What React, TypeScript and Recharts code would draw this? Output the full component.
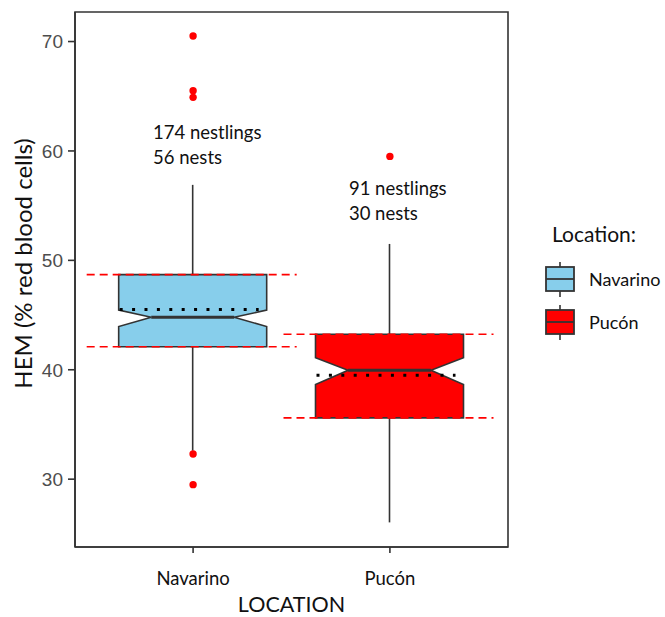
import React from 'react';
import {
  ComposedChart,
  Bar,
  Scatter,
  XAxis,
  YAxis,
  Legend,
  ReferenceDot,
  ReferenceArea,
} from 'recharts';

const LOCATIONS = ['Navarino', 'Pucón'];
const POSITIONS = [1, 2];
const X_DOMAIN = [0.4, 2.6];
const WHISKER_LOW = [32.6, 26.05];
const WHISKER_HIGH = [56.9, 51.5];
const Q1 = [42.1, 35.6];
const MEDIAN = [44.8, 39.95];
const Q3 = [48.7, 43.25];
const MEAN = [45.5, 39.5];
const NOTCH_LOW = [43.95, 38.65];
const NOTCH_HIGH = [45.45, 41.1];
const OUTLIERS_NAVARINO = [70.5, 65.5, 64.9, 32.3, 29.5];
const OUTLIERS_PUCON = [59.5];
const NOTE_NAVARINO = ['174 nestlings', '56 nests'];
const NOTE_PUCON = ['91 nestlings', '30 nests'];
const NOTE_Y = [61.05, 55.95];
const Y_TICKS = [30, 40, 50, 60, 70];
const Y_DOMAIN = [23.8, 72.7];
const FILLS = ['#87CEEB', '#FF0000'];

const OUTLIERS = [OUTLIERS_NAVARINO, OUTLIERS_PUCON];
const OUTLIER_KEYS = ['o1', 'o2', 'o3', 'o4', 'o5'];

const boxData = LOCATIONS.map((name, i) => {
  const row: any = {
    name,
    pos: POSITIONS[i],
    range: [WHISKER_LOW[i], WHISKER_HIGH[i]],
    q1: Q1[i],
    median: MEDIAN[i],
    q3: Q3[i],
    mean: MEAN[i],
    notchLo: NOTCH_LOW[i],
    notchHi: NOTCH_HIGH[i],
    fill: FILLS[i],
  };
  OUTLIER_KEYS.forEach((k, j) => {
    row[k] = OUTLIERS[i][j] ?? null;
  });
  return row;
});

const TEXT_FONT = 'Lato, "Open Sans", sans-serif';
const EDGE = '#333333';

function NotchedBox(props: any) {
  const { x, y, width, height, payload } = props;
  const lo = payload.range[0];
  const hi = payload.range[1];
  const top = Math.min(y, y + height);
  const h = Math.abs(height);
  const k = h / (hi - lo);
  const py = (v: number) => top + (hi - v) * k;
  const left = x;
  const right = x + width;
  const cx = x + width / 2;
  const inset = width * 0.22;
  const yQ1 = py(payload.q1);
  const yQ3 = py(payload.q3);
  const yMed = py(payload.median);
  const yNh = py(payload.notchHi);
  const yNl = py(payload.notchLo);
  const yMean = py(payload.mean);
  const path = [
    `M${left},${yQ3}`,
    `L${right},${yQ3}`,
    `L${right},${yNh}`,
    `L${right - inset},${yMed}`,
    `L${right},${yNl}`,
    `L${right},${yQ1}`,
    `L${left},${yQ1}`,
    `L${left},${yNl}`,
    `L${left + inset},${yMed}`,
    `L${left},${yNh}`,
    'Z',
  ].join(' ');
  return (
    <g>
      <line x1={cx} x2={cx} y1={top} y2={yQ3} stroke={EDGE} strokeWidth={1.6} />
      <line x1={cx} x2={cx} y1={yQ1} y2={top + h} stroke={EDGE} strokeWidth={1.6} />
      <path d={path} fill={payload.fill} stroke={EDGE} strokeWidth={1.6} strokeLinejoin="miter" />
      <line x1={left + inset} x2={right - inset} y1={yMed} y2={yMed} stroke={EDGE} strokeWidth={3} />
      <line
        x1={left + 1}
        x2={right - 8}
        y1={yMean}
        y2={yMean}
        stroke="#000"
        strokeWidth={3}
        strokeDasharray="3 9.4"
      />
      <line x1={left - 32} x2={right + 30} y1={yQ3} y2={yQ3} stroke="#FF0000" strokeWidth={1.6} strokeDasharray="8 5" />
      <line x1={left - 32} x2={right + 30} y1={yQ1} y2={yQ1} stroke="#FF0000" strokeWidth={1.6} strokeDasharray="8 5" />
    </g>
  );
}

function outlierDot(key: string) {
  return (props: any) => {
    const { cx, cy, payload } = props;
    if (!payload || payload[key] == null || !Number.isFinite(cx) || !Number.isFinite(cy)) return <g />;
    return <circle cx={cx} cy={cy} r={3.7} fill="#FF0000" />;
  };
}

function noteLabel(lines: string[], dx: number) {
  return (props: any) => {
    const vb = props.viewBox || {};
    const bx = (vb.x ?? 0) + (vb.width ?? 0) / 2 + dx;
    const by = (vb.y ?? 0) + (vb.height ?? 0) / 2;
    return (
      <text x={bx} y={by} fontFamily={TEXT_FONT} fontSize={18.5} fill="#111">
        {lines.map((t, i) => (
          <tspan key={i} x={bx} dy={i === 0 ? 0 : 24.5}>
            {t}
          </tspan>
        ))}
      </text>
    );
  };
}

function LegendBox({ fill, y }: { fill: string; y: number }) {
  return (
    <g>
      <line x1={20} x2={20} y1={y - 5} y2={y + 30} stroke={EDGE} strokeWidth={1.6} />
      <rect x={6} y={y} width={28} height={24} fill={fill} stroke={EDGE} strokeWidth={1.8} />
      <line x1={6} x2={34} y1={y + 12} y2={y + 12} stroke={EDGE} strokeWidth={1.8} />
    </g>
  );
}

function LegendContent() {
  return (
    <svg width={125} height={130} style={{ overflow: 'visible' }}>
      <text x={12} y={27} fontFamily={TEXT_FONT} fontSize={21} fill="#111">
        Location:
      </text>
      <LegendBox fill={FILLS[0]} y={52} />
      <text x={49} y={71} fontFamily={TEXT_FONT} fontSize={18} fill="#111">
        {LOCATIONS[0]}
      </text>
      <LegendBox fill={FILLS[1]} y={95} />
      <text x={49} y={114} fontFamily={TEXT_FONT} fontSize={18} fill="#111">
        {LOCATIONS[1]}
      </text>
    </svg>
  );
}

export default function App() {
  return (
    <div style={{ position: 'absolute', left: 0, top: 0, background: '#fff' }}>
      <ComposedChart
        width={665}
        height={617}
        data={boxData}
        margin={{ top: 12, right: 157, left: 0, bottom: 0 }}
      >
        <XAxis
          dataKey="pos"
          type="number"
          domain={X_DOMAIN}
          ticks={POSITIONS}
          allowDataOverflow
          tickFormatter={(v: number) => LOCATIONS[POSITIONS.indexOf(v)] ?? ''}
          height={70}
          axisLine={{ stroke: EDGE, strokeWidth: 1.6 }}
          tickLine={{ stroke: EDGE, strokeWidth: 1.6 }}
          tickSize={6}
          tickMargin={19}
          tick={{ fill: '#111', fontFamily: TEXT_FONT, fontSize: 18.5 }}
          label={{
            content: (p: any) => {
              const vb = p.viewBox || {};
              return (
                <text
                  x={(vb.x ?? 0) + (vb.width ?? 0) / 2}
                  y={612}
                  textAnchor="middle"
                  fontFamily={TEXT_FONT}
                  fontSize={21.5}
                  fill="#111"
                >
                  LOCATION
                </text>
              );
            },
          }}
        />
        <YAxis
          type="number"
          width={75}
          domain={Y_DOMAIN}
          ticks={Y_TICKS}
          allowDataOverflow
          axisLine={{ stroke: EDGE, strokeWidth: 1.6 }}
          tickLine={{ stroke: EDGE, strokeWidth: 1.6 }}
          tickSize={7}
          tickMargin={5}
          tick={{ fill: '#4D4D4D', fontFamily: '"Liberation Sans", Arial, sans-serif', fontSize: 19 }}
          label={{
            content: (p: any) => {
              const vb = p.viewBox || {};
              const cy = (vb.y ?? 0) + (vb.height ?? 0) / 2 - 16;
              return (
                <text
                  transform={`translate(32, ${cy}) rotate(-90)`}
                  textAnchor="middle"
                  fontFamily={TEXT_FONT}
                  fontSize={24}
                  fill="#111"
                >
                  HEM (% red blood cells)
                </text>
              );
            },
          }}
        />
        <ReferenceArea
          y1={Y_DOMAIN[0]}
          y2={Y_DOMAIN[1]}
          fill="none"
          fillOpacity={0}
          stroke={EDGE}
          strokeWidth={1.6}
          ifOverflow="visible"
        />
        <Bar dataKey="range" barSize={148} shape={NotchedBox} isAnimationActive={false} />
        {OUTLIER_KEYS.map((k) => (
          <Scatter key={k} dataKey={k} isAnimationActive={false} shape={outlierDot(k)} />
        ))}
        <ReferenceDot
          x={POSITIONS[0]}
          y={NOTE_Y[0]}
          r={0}
          fill="none"
          stroke="none"
          label={{ content: noteLabel(NOTE_NAVARINO, -40) }}
        />
        <ReferenceDot
          x={POSITIONS[1]}
          y={NOTE_Y[1]}
          r={0}
          fill="none"
          stroke="none"
          label={{ content: noteLabel(NOTE_PUCON, -41) }}
        />
        <Legend
          layout="vertical"
          align="center"
          verticalAlign="middle"
          wrapperStyle={{ left: 540, top: 215, width: 125 }}
          content={LegendContent}
        />
      </ComposedChart>
    </div>
  );
}
